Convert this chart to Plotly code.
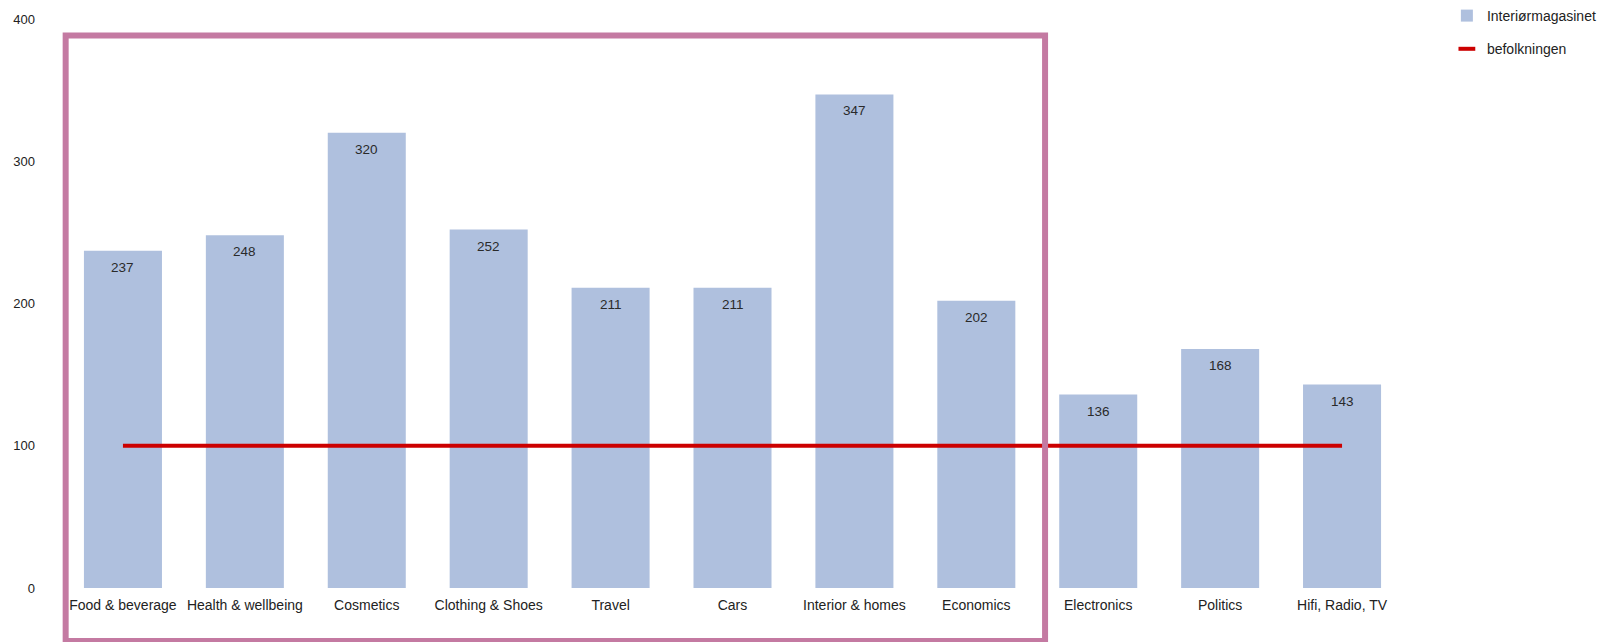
import plotly.graph_objects as go

categories = ["Food & beverage", "Health & wellbeing", "Cosmetics", "Clothing & Shoes",
              "Travel", "Cars", "Interior & homes", "Economics", "Electronics",
              "Politics", "Hifi, Radio, TV"]
magazine_index = [237, 248, 320, 252, 211, 211, 347, 202, 136, 168, 143]
population_index = [100] * len(categories)
y_ticks = [0, 100, 200, 300, 400]

BAR_COLOR = "#AFC0DE"
LINE_COLOR = "#CC0000"
FONT = "Arial, Liberation Sans, sans-serif"

fig = go.Figure()
fig.add_trace(go.Bar(
    x=categories, y=magazine_index, name="Interiørmagasinet",
    marker=dict(color=BAR_COLOR, line=dict(width=0)),
    legendgroup="a",
))
fig.add_trace(go.Scatter(
    x=categories, y=population_index, mode="lines", name="befolkningen",
    line=dict(color=LINE_COLOR, width=4), showlegend=False,
))
# legend-only entry with a short line symbol
fig.add_trace(go.Scatter(
    x=[None], y=[None], mode="markers", name="befolkningen",
    marker=dict(symbol="line-ew-open", size=12, color=LINE_COLOR,
                line=dict(width=4, color=LINE_COLOR)),
    legendgroup="b",
))

for c, v in zip(categories, magazine_index):
    fig.add_annotation(x=c, y=v, text=str(v), showarrow=False, yanchor="top",
                       yshift=-7, font=dict(size=13.5, color="#2a2a2a", family=FONT))

fig.add_shape(type="rect", xref="x", yref="paper", x0=-0.47, x1=7.564,
              y0=-0.093, y1=0.971, line=dict(color="#C47AA2", width=6),
              fillcolor="rgba(0,0,0,0)", layer="above")

fig.update_layout(
    width=1597, height=642,
    margin=dict(l=62, r=194, t=17, b=54),
    paper_bgcolor="white", plot_bgcolor="white",
    bargap=0.36,
    font=dict(family=FONT, color="#222222"),
    legend=dict(xref="container", yref="container", x=0.906, y=1.0,
                xanchor="left", yanchor="top", font=dict(size=14, color="#222222"),
                traceorder="grouped", tracegroupgap=12, bgcolor="rgba(0,0,0,0)"),
    xaxis=dict(showgrid=False, zeroline=False, showline=False, ticks="",
               tickfont=dict(size=14, color="#222222"), ticklabelstandoff=7),
    yaxis=dict(range=[0, 400], tickvals=y_ticks, showgrid=False, zeroline=False,
               showline=False, ticks="", tickfont=dict(size=13, color="#222222"),
               ticklabelstandoff=26),
)

fig.write_html("out.html")
